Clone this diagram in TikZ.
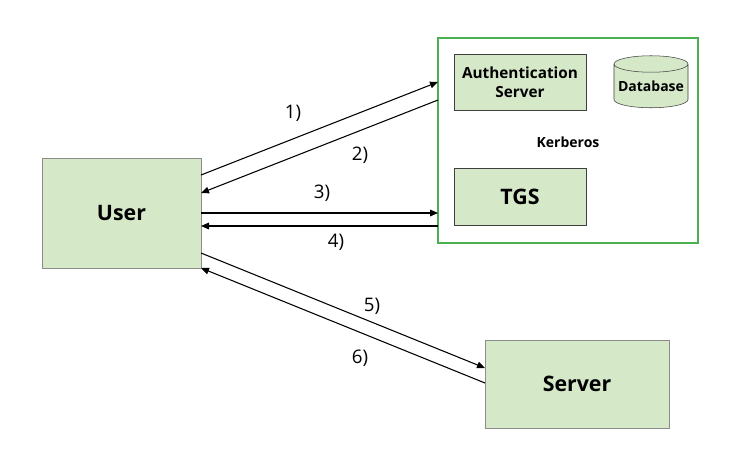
\documentclass[tikz,border=0pt]{standalone}
\usepackage{fontspec}
\setmainfont{Open Sans}
\usetikzlibrary{shapes.geometric,arrows.meta}
\definecolor{boxfill}{HTML}{D5E8C8}
\definecolor{boxline}{HTML}{404040}
\definecolor{kline}{HTML}{4CAF50}
\tikzset{
 gbox/.style={draw=boxline,fill=boxfill,inner sep=0pt,font=\bfseries},
 conn/.style={-{Triangle[length=6pt,width=5pt]},line width=0.8pt},
 lbl/.style={font=\fontsize{14}{16}\selectfont}
}
\begin{document}
\begin{tikzpicture}[x=0.75pt,y=-0.75pt]
\useasboundingbox[fill=white] (0,0) rectangle (736,462);
\node[draw=kline,line width=1pt,minimum width=260*0.75pt,minimum height=205*0.75pt,inner sep=0pt] (kerb) at (568,140.5) {};
\node[font=\bfseries\fontsize{10.5}{12}\selectfont] (klbl) at (568,142) {Kerberos};
\node[gbox,minimum width=132*0.75pt,minimum height=56*0.75pt,align=center,font=\bfseries\fontsize{11.5}{14}\selectfont] (as) at (520,82) {Authentication\\Server};
\node[gbox,cylinder,shape border rotate=90,aspect=0.25,minimum width=74*0.75pt,minimum height=52*0.75pt,font=\bfseries\fontsize{10.5}{12}\selectfont] (db) at (651,86) {Database};
\node[gbox,minimum width=132*0.75pt,minimum height=57*0.75pt,font=\bfseries\fontsize{16}{19}\selectfont] (tgs) at (520,196.5) {TGS};
\node[gbox,draw=boxline!60,minimum width=159*0.75pt,minimum height=110*0.75pt,font=\bfseries\fontsize{16}{19}\selectfont] (user) at (121.5,213) {User};
\node[gbox,draw=boxline!60,minimum width=184*0.75pt,minimum height=88*0.75pt,font=\bfseries\fontsize{16}{19}\selectfont] (server) at (577,384) {Server};
\coordinate (u1) at (201,175); \coordinate (k1) at (438,82);
\coordinate (k2) at (438,100); \coordinate (u2) at (201,193);
\coordinate (u3) at (201,213); \coordinate (k3) at (438,213);
\coordinate (k4) at (438,226); \coordinate (u4) at (201,226);
\coordinate (u5) at (201,253); \coordinate (s5) at (485,368);
\coordinate (s6) at (485,383); \coordinate (u6) at (201,268);
\draw[conn] (u1) -- (k1);
\draw[conn] (k2) -- (u2);
\draw[conn] (u3) -- (k3);
\draw[conn] (k4) -- (u4);
\draw[conn] (u5) -- (s5);
\draw[conn] (s6) -- (u6);
\node[lbl] (l1) at (293,113) {1)};
\node[lbl] (l2) at (360,155) {2)};
\node[lbl] (l3) at (322,193) {3)};
\node[lbl] (l4) at (336,242) {4)};
\node[lbl] (l5) at (372,306) {5)};
\node[lbl] (l6) at (360,358) {6)};
\end{tikzpicture}
\end{document}
